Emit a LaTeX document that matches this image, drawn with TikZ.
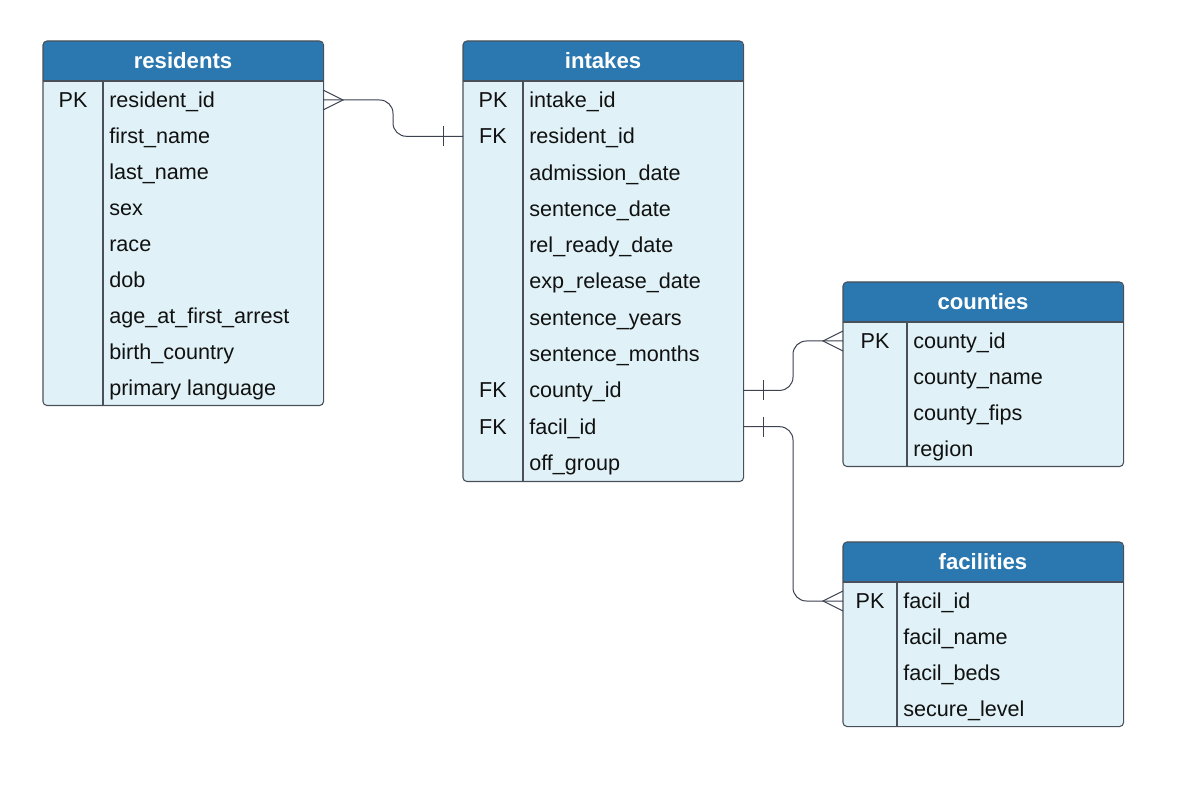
\documentclass[tikz,border=0pt]{standalone}
\usepackage{fontspec}
\setmainfont{Liberation Sans}
\usetikzlibrary{calc}
\definecolor{hdr}{HTML}{2A78AF}
\definecolor{bodyc}{HTML}{E0F2F7}
\definecolor{edgec}{HTML}{4A505A}
\definecolor{conn}{HTML}{3C4250}
\definecolor{txt}{HTML}{111111}
\tikzset{
  x=0.75pt, y=-0.75pt,
  keytxt/.style={anchor=base, inner sep=0pt, text=txt, font=\fontsize{16.2pt}{19pt}\selectfont},
  fldtxt/.style={anchor=base west, inner sep=0pt, text=txt, font=\fontsize{16.2pt}{19pt}\selectfont},
  titletxt/.style={anchor=base, inner sep=0pt, text=white, font=\fontsize{16.6pt}{19pt}\selectfont\bfseries},
  tablebody/.style={fill=bodyc, inner sep=0pt, minimum width=210pt, anchor=north west},
  outline/.style={draw=edgec, line width=0.8pt, rounded corners=3pt},
  rel/.style={draw=conn, line width=0.75pt},
}
% name, left, top, height, divider x, title, pitch, rows
\newcommand\ertable[8]{%
  \pgfmathsetmacro\erR{#2+280}%
  \pgfmathsetmacro\erB{#3+#4}%
  \pgfmathsetmacro\erH{#3+40}%
  \pgfmathsetmacro\erK{(#2+#5)/2}%
  \pgfmathsetmacro\erMid{(#2+\erR)/2}%
  \node[tablebody, minimum height={#4*0.75pt}, rounded corners=3pt] (#1) at (#2,#3) {};
  \fill[hdr] (#2,\erH) [rounded corners=3pt]-- (#2,#3) -- (\erR,#3) [sharp corners]-- (\erR,\erH) -- cycle;
  \node[titletxt] (#1-title) at (\erMid,#3+28) {#6};
  \draw[edgec, line width=0.8pt] (#2,\erH) -- (\erR,\erH);
  \draw[edgec, line width=0.8pt] (#5,\erH) -- (#5,\erB);
  \foreach \k/\f [count=\i] in {#8} {
    \pgfmathsetmacro\ry{#3+59+(\i-1)*#7}
    \node[keytxt] (#1-k\i) at (\erK,\ry+7.5) {\k};
    \node[fldtxt] (#1-f\i) at (#5+6,\ry+7.5) {\f};
    \coordinate (#1-L\i) at (#2,\ry);
    \coordinate (#1-R\i) at (\erR,\ry);
  }
  \draw[outline] (#1.north west) rectangle (#1.south east);
}
\begin{document}
\begin{tikzpicture}
\fill[white] (0,0) rectangle (1186,791);
\useasboundingbox (0,0) rectangle (1186,791);

\ertable{res}{43}{41}{364}{103}{residents}{36}{PK/resident\_id, /first\_name, /last\_name, /sex, /race, /dob, /age\_at\_first\_arrest, /birth\_country, /primary language}
\ertable{int}{463}{41}{440}{523}{intakes}{36.3}{PK/intake\_id, FK/resident\_id, /admission\_date, /sentence\_date, /rel\_ready\_date, /exp\_release\_date, /sentence\_years, /sentence\_months, FK/county\_id, FK/facil\_id, /off\_group}
\ertable{cty}{843}{282}{184}{907}{counties}{36}{PK/county\_id, /county\_name, /county\_fips, /region}
\ertable{fac}{843}{542}{184}{897}{facilities}{36}{PK/facil\_id, /facil\_name, /facil\_beds, /secure\_level}

\coordinate (m1) at ($(res-R1)!.5!(int-L2)$);
\coordinate (m2) at ($(int-R9)!.5!(cty-L1)$);
\coordinate (m3) at ($(int-R10)!.5!(fac-L1)$);

% residents (many) -- intakes (one)
\draw[rel, rounded corners=10pt] (res-R1) -- (m1 |- res-R1) -- (m1 |- int-L2) -- (int-L2);
\draw[rel] ($(res-R1)+(0,-10)$) -- ($(res-R1)+(20,0)$) -- ($(res-R1)+(0,10)$);
\draw[rel] ($(int-L2)+(-20,-10)$) -- ($(int-L2)+(-20,10)$);

% intakes (one) -- counties (many)
\draw[rel, rounded corners=10pt] (int-R9) -- (m2 |- int-R9) -- (m2 |- cty-L1) -- (cty-L1);
\draw[rel] ($(cty-L1)+(0,-10)$) -- ($(cty-L1)+(-20,0)$) -- ($(cty-L1)+(0,10)$);
\draw[rel] ($(int-R9)+(20,-10)$) -- ($(int-R9)+(20,10)$);

% intakes (one) -- facilities (many)
\draw[rel, rounded corners=10pt] (int-R10) -- (m3 |- int-R10) -- (m3 |- fac-L1) -- (fac-L1);
\draw[rel] ($(fac-L1)+(0,-10)$) -- ($(fac-L1)+(-20,0)$) -- ($(fac-L1)+(0,10)$);
\draw[rel] ($(int-R10)+(20,-10)$) -- ($(int-R10)+(20,10)$);
\end{tikzpicture}
\end{document}
